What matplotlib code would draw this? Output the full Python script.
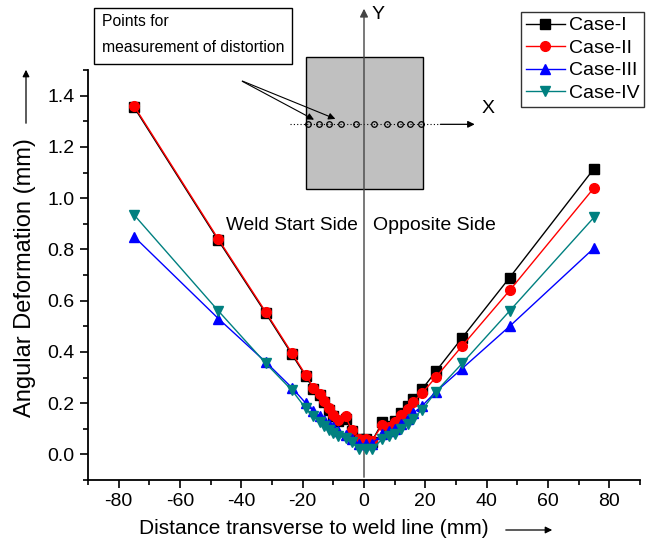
import numpy as np
import matplotlib.pyplot as plt
from matplotlib.patches import Rectangle, FancyArrowPatch
from matplotlib.ticker import MultipleLocator

plt.rcParams['font.family'] = ['Liberation Sans', 'DejaVu Sans']
plt.rcParams['axes.unicode_minus'] = False

# distance of each measuring point from the weld line (mm)
x_pos = [-75, -47.5, -32, -23.5, -19, -16.5, -14.5, -13, -11.5, -10, -8.5, -6, -4, -1.5,
         0.5, 2.5, 6, 8, 10, 12, 14.5, 16, 19, 23.5, 32, 47.5, 75]

case1 = [1.355, 0.835, 0.55, 0.39, 0.305, 0.255, 0.23, 0.205, 0.175, 0.15, 0.13, 0.14, 0.09, 0.06,
         0.06, 0.05, 0.125, 0.11, 0.13, 0.16, 0.19, 0.215, 0.255, 0.325, 0.455, 0.69, 1.115]
case2 = [1.36, 0.84, 0.555, 0.395, 0.31, 0.26, 0.235, 0.21, 0.18, 0.152, 0.133, 0.148, 0.094, 0.061,
         0.061, 0.051, 0.116, 0.107, 0.125, 0.152, 0.178, 0.204, 0.24, 0.302, 0.423, 0.64, 1.04]
case3 = [0.85, 0.53, 0.36, 0.26, 0.2, 0.17, 0.15, 0.135, 0.12, 0.105, 0.09, 0.075, 0.06, 0.04,
         0.04, 0.04, 0.08, 0.09, 0.1, 0.12, 0.14, 0.16, 0.19, 0.245, 0.335, 0.50, 0.805]
case4 = [0.935, 0.56, 0.355, 0.25, 0.18, 0.15, 0.125, 0.11, 0.095, 0.085, 0.07, 0.065, 0.05, 0.02,
         0.02, 0.02, 0.06, 0.07, 0.08, 0.1, 0.12, 0.14, 0.175, 0.245, 0.355, 0.56, 0.925]

labels = ['Case-I', 'Case-II', 'Case-III', 'Case-IV']
colors = ['black', 'red', 'blue', '#008080']
markers = ['s', 'o', '^', 'v']

# sketch of the plate: measuring circles along the transverse line
circle_x = [-18.3, -14.8, -11.4, -7.4, -2.5, 3.3, 7.6, 11.6, 15.1, 18.5]

W, H = 651, 547
fig = plt.figure(figsize=(W / 100, H / 100), dpi=100)
ax = fig.add_axes([88 / W, 1 - 480 / H, (640 - 88) / W, (480 - 70) / H])


def px(x, y):
    return (x / W, 1 - y / H)


for ys, lab, c, m in zip([case1, case2, case3, case4], labels, colors, markers):
    ax.plot(x_pos, ys, color=c, marker=m, markersize=7, lw=1.0, label=lab, zorder=3)

ax.set_xlim(-90, 90)
ax.set_ylim(-0.1, 1.5)
ax.xaxis.set_major_locator(MultipleLocator(20))
ax.xaxis.set_minor_locator(MultipleLocator(10))
ax.yaxis.set_major_locator(MultipleLocator(0.2))
ax.yaxis.set_minor_locator(MultipleLocator(0.1))
ax.yaxis.set_major_formatter(plt.FormatStrFormatter('%.1f'))
ax.tick_params(which='major', direction='out', length=6, width=1.2, labelsize=14)
ax.tick_params(which='minor', direction='out', length=3.5, width=1.2)
for s in ['top', 'right']:
    ax.spines[s].set_visible(False)
for s in ['left', 'bottom']:
    ax.spines[s].set_linewidth(1.3)

# plate sketch
ax.add_patch(Rectangle((-19.0, 1.034), 38.1, 0.515, facecolor='#c0c0c0', edgecolor='black',
                       lw=1.0, clip_on=False, zorder=1))
ax.plot([-24.2, 24], [1.288, 1.288], ls=(0, (1, 2)), color='black', lw=0.8, clip_on=False, zorder=2)
ax.plot(circle_x, [1.288] * len(circle_x), 'o', mfc='none', mec='black', ms=4, mew=0.9,
        clip_on=False, zorder=2)
ax.annotate('', xy=(37, 1.288), xytext=(24, 1.288), annotation_clip=False,
            arrowprops=dict(arrowstyle='-|>', color='black', lw=0.9, mutation_scale=10), zorder=2)
ax.text(40.5, 1.35, 'X', fontsize=14, ha='center', va='center')

# vertical Y axis through the weld line
ax.annotate('', xy=(0, 1.75), xytext=(0, -0.1), annotation_clip=False,
            arrowprops=dict(arrowstyle='-|>', color='#444444', lw=1.0, mutation_scale=12), zorder=2)
ax.text(4.5, 1.716, 'Y', fontsize=14, ha='center', va='center')

# note box with leader arrows
fig.text(*px(102, 22), 'Points for', fontsize=11.3, va='center', ha='left')
fig.text(*px(102, 47), 'measurement of distortion', fontsize=11.3, va='center', ha='left')
fig.patches.append(Rectangle(px(94, 64), (292 - 94) / W, (64 - 8) / H, fill=False,
                             edgecolor='black', lw=1.0, transform=fig.transFigure))
for ex, ey in [(-15.5, 1.301), (-8.5, 1.305)]:
    ax.annotate('', xy=(ex, ey), xytext=(-40.5, 1.461), annotation_clip=False,
                arrowprops=dict(arrowstyle='-|>', color='black', lw=0.8, mutation_scale=10))

ax.text(-45.1, 0.895, 'Weld Start Side', fontsize=13.8, ha='left', va='center')
ax.text(2.8, 0.895, 'Opposite Side', fontsize=14, ha='left', va='center')

leg = ax.legend(loc='upper right', bbox_to_anchor=(644 / W, 1 - 12 / H),
                bbox_transform=fig.transFigure, fontsize=14, frameon=True, fancybox=False,
                borderpad=0.25, labelspacing=0.25, handlelength=2.0, handletextpad=0.2,
                borderaxespad=0)
leg.get_frame().set_edgecolor('black')
leg.get_frame().set_linewidth(1.0)

# axis titles with direction arrows
fig.text(*px(25, 278), 'Angular Deformation (mm)', fontsize=17, rotation=90, ha='center', va='center')
fig.patches.append(FancyArrowPatch(px(26, 126), px(26, 67), arrowstyle='-|>', mutation_scale=10,
                                   lw=0.9, color='black', transform=fig.transFigure))
fig.text(*px(314, 528), 'Distance transverse to weld line (mm)', fontsize=15, ha='center', va='center')
fig.patches.append(FancyArrowPatch(px(503, 530), px(555, 530), arrowstyle='-|>', mutation_scale=10,
                                   lw=0.9, color='black', transform=fig.transFigure))

fig.savefig('out.png', dpi=100)
